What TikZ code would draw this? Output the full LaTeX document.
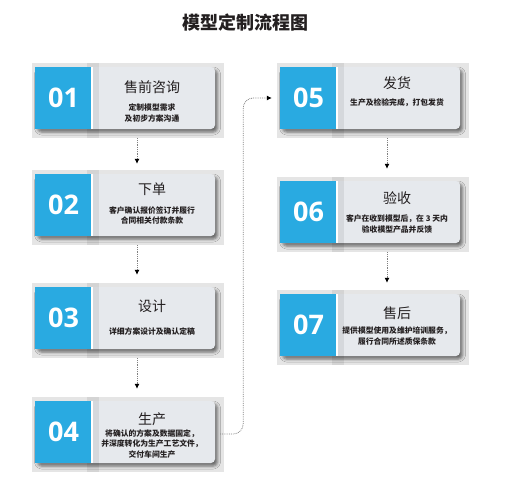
\documentclass[tikz,border=0pt]{standalone}
\usepackage{fontspec}
\setmainfont{Noto Sans CJK SC}
\newfontfamily\numfont{Open Sans}
\usetikzlibrary{positioning}
\usetikzlibrary{shadows.blur}
\usetikzlibrary{arrows.meta}

\definecolor{stepblue}{RGB}{41,170,225}
\definecolor{cardgray}{RGB}{230,233,237}
\definecolor{backgray}{RGB}{229,229,229}
\definecolor{inkblack}{RGB}{35,31,32}

\begin{document}
\begin{tikzpicture}[x=1pt,y=-1pt,
  backdrop/.style={fill=backgray, minimum width=192pt, minimum height=75pt, inner sep=0pt},
  cardbody/.style={fill=cardgray, rounded corners=4pt, minimum width=180pt, minimum height=62pt, inner sep=0pt,
    blur shadow={shadow xshift=2.5pt, shadow yshift=-3pt, shadow blur radius=3pt, shadow opacity=55}},
  numbox/.style={fill=stepblue, minimum width=57pt, minimum height=62pt, inner sep=0pt,
    text=white, font=\numfont\bfseries\fontsize{27}{27}\selectfont},
  cardtitle/.style={text=inkblack, font=\fontsize{14}{14}\selectfont},
  cardtext/.style={text=inkblack, align=center, font=\bfseries\fontsize{7.8}{10.5}\selectfont},
  flow/.style={gray, densely dotted, line width=.8pt, -{Latex[length=5pt,width=5pt,black]}}]
\useasboundingbox (0,0) rectangle (521,484);

%title
\node[text=inkblack, font=\bfseries\fontsize{18}{18}\selectfont] (head) at (245,23) {模型定制流程图};

%cards
\foreach \i/\x/\y/\ttl/\ty/\sub/\sy in {
  1/0/67/售前咨询/20/{定制模型需求\\及初步方案沟通}/46,
  2/0/174/下单/15/{客户确认报价签订并履行\\合同相关付款条款}/41.5,
  3/0/287/设计/19/{详细方案设计及确认定稿}/44,
  4/0/401/生产/18/{将确认的方案及数据固定，\\并深度转化为生产工艺文件，\\交付车间生产}/43,
  5/245/67/发货/16/{生产及检验完成，打包发货}/36,
  6/245/181/验收/17/{客户在收到模型后，在 3 天内\\验收模型产品并反馈}/43,
  7/245/294/售后/19/{提供模型使用及维护培训服务，\\履行合同所述质保条款}/42}{
  \node[backdrop] (s\i) at (128+\x,\y+33.5) {};
  \node[cardbody] (b\i) at (125+\x,\y+31) {};
  \fill[black, opacity=.07] ([xshift=-5pt]s\i.north -| 92+\x,0) rectangle ([xshift=7pt]s\i.south -| 92+\x,0);
  \node[numbox] (n\i) at (63.5+\x,\y+31) {0\i};
  \draw[white, line width=1.5pt] (n\i.north east) -- (n\i.south east);
  \node[cardtitle] (t\i) at (152+\x,\y+\ty) {\ttl};
  \node[cardtext] (d\i) at (152+\x,\y+\sy) {\sub};
}

%arrows
\draw[flow, shorten >=6pt] ([xshift=9pt]s1.south) -- ([xshift=9pt]s2.north);
\draw[flow, shorten >=8pt] ([xshift=9pt]s2.south) -- ([xshift=9pt]s3.north);
\draw[flow, shorten >=8pt] ([xshift=9pt]s3.south) -- ([xshift=9pt]s4.north);
\draw[flow, shorten >=8pt] ([xshift=14pt]s5.south) -- ([xshift=14pt]s6.north);
\draw[flow, shorten >=7pt] ([xshift=14pt]s6.south) -- ([xshift=14pt]s7.north);
%jump to right column
\draw[flow, rounded corners=10pt, shorten <=5pt, shorten >=8pt] ([yshift=-2pt]b4.east) -- ++(28,0) |- (n5.west);

\end{tikzpicture}
\end{document}
